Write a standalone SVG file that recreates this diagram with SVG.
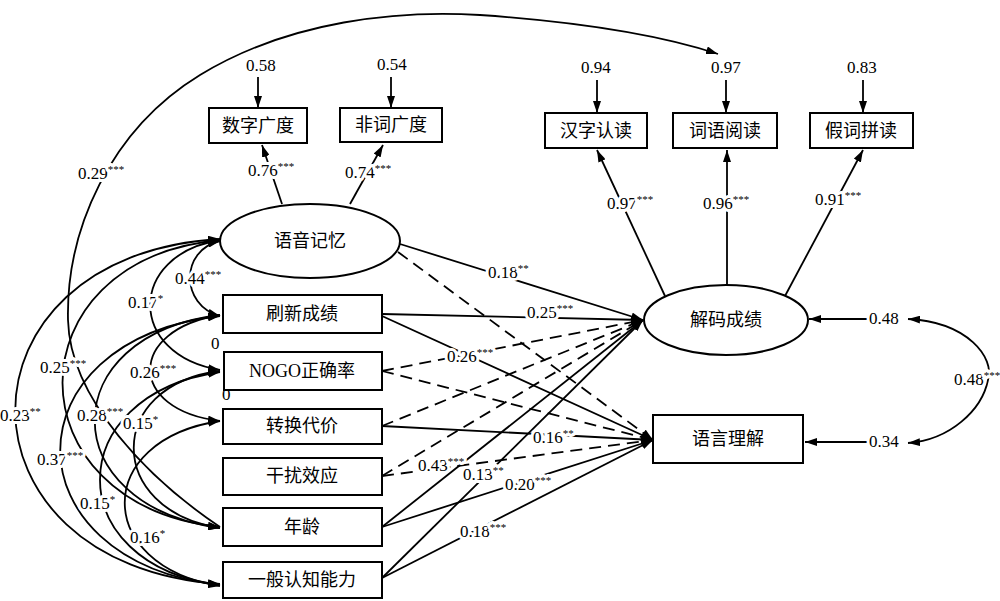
<svg xmlns="http://www.w3.org/2000/svg" width="1000" height="601" viewBox="0 0 1000 601" font-family="'Liberation Serif','Noto Sans CJK SC',serif">
<defs>
<style>
.bx{fill:#fff;stroke:#000;stroke-width:2}
.el{fill:#fff;stroke:#000;stroke-width:2}
.ln{fill:none;stroke:#000;stroke-width:1.8}
.ds{stroke-dasharray:12 7}
text{font-family:'Liberation Serif','Noto Sans CJK SC',serif;fill:#000}
.nt{font-size:18px;text-anchor:middle}
.lb{font-size:17px;stroke:#fff;stroke-width:6;paint-order:stroke;stroke-linejoin:round}
.lb tspan{font-size:11px}
</style>
<marker id="ah" viewBox="0 0 12 8" refX="12" refY="4" markerWidth="12" markerHeight="8" markerUnits="userSpaceOnUse" orient="auto-start-reverse"><path d="M0,0 L12,4 L0,8 z" fill="#000"/></marker>
</defs>
<rect width="1000" height="601" fill="#fff"/>
<g id="connectors">
<path class="ln" marker-end="url(#ah)" d="M220,527 C150,480 70,400 68,320 C66,230 110,130 200,75 C290,20 400,10 480,15 C580,22 660,35 718,54"/>
<path class="ln" marker-end="url(#ah)" d="M258,77 L258,108"/>
<path class="ln" marker-end="url(#ah)" d="M391,77 L391,108"/>
<path class="ln" marker-end="url(#ah)" d="M597,80 L597,113"/>
<path class="ln" marker-end="url(#ah)" d="M726,80 L726,113"/>
<path class="ln" marker-end="url(#ah)" d="M863,80 L863,113"/>
<path class="ln" marker-end="url(#ah)" d="M868,319 L809,319"/>
<path class="ln" marker-end="url(#ah)" d="M868,442 L805,442"/>
<path class="ln" marker-start="url(#ah)" marker-end="url(#ah)" d="M908,319 C968,322 995,358 988,380 C982,410 950,440 908,443"/>
<path class="ln" marker-end="url(#ah)" d="M282,204 L262,145"/>
<path class="ln" marker-end="url(#ah)" d="M350,204 L383,145"/>
<path class="ln" marker-end="url(#ah)" d="M665,296 L597,150"/>
<path class="ln" marker-end="url(#ah)" d="M727,285 L727,150"/>
<path class="ln" marker-end="url(#ah)" d="M785,296 L863,150"/>
<path class="ln" marker-start="url(#ah)" marker-end="url(#ah)" d="M220,241 C180,250 180,305 220,316"/>
<path class="ln" marker-start="url(#ah)" marker-end="url(#ah)" d="M220,240 C127,255 127,355 220,370"/>
<path class="ln" marker-start="url(#ah)" marker-end="url(#ah)" d="M220,240 C10,260 10,505 220,527"/>
<path class="ln" marker-start="url(#ah)" marker-end="url(#ah)" d="M220,239 C-53,255 -53,565 220,584"/>
<path class="ln" marker-start="url(#ah)" marker-end="url(#ah)" d="M220,315 C127,330 127,410 220,421"/>
<path class="ln" marker-start="url(#ah)" marker-end="url(#ah)" d="M220,315 C53,335 53,505 220,528"/>
<path class="ln" marker-start="url(#ah)" marker-end="url(#ah)" d="M220,316 C7,340 7,560 220,585"/>
<path class="ln" marker-start="url(#ah)" marker-end="url(#ah)" d="M220,371 C105,385 105,510 220,528"/>
<path class="ln" marker-start="url(#ah)" marker-end="url(#ah)" d="M220,372 C60,395 60,565 220,585"/>
<path class="ln" marker-start="url(#ah)" marker-end="url(#ah)" d="M220,421 C93,440 93,565 220,586"/>
<path class="ln" marker-end="url(#ah)" d="M400,244 L643,320"/>
<path class="ln" marker-end="url(#ah)" d="M382,314 L643,320"/>
<path class="ln ds" marker-end="url(#ah)" d="M382,371 L643,320"/>
<path class="ln ds" marker-end="url(#ah)" d="M382,426 L643,320"/>
<path class="ln ds" marker-end="url(#ah)" d="M382,476 L643,320"/>
<path class="ln" marker-end="url(#ah)" d="M382,527 L643,320"/>
<path class="ln" marker-end="url(#ah)" d="M382,578 L643,320"/>
<path class="ln ds" marker-end="url(#ah)" d="M398,252 L653,440"/>
<path class="ln" marker-end="url(#ah)" d="M382,316 L653,440"/>
<path class="ln ds" marker-end="url(#ah)" d="M382,371 L653,440"/>
<path class="ln" marker-end="url(#ah)" d="M382,426 L653,440"/>
<path class="ln ds" marker-end="url(#ah)" d="M382,476 L653,440"/>
<path class="ln" marker-end="url(#ah)" d="M382,527 L653,440"/>
<path class="ln" marker-end="url(#ah)" d="M382,578 L653,440"/>
<text class="lb" x="78" y="179">0.29<tspan dy="-6">***</tspan></text>
<text class="lb" x="248" y="176">0.76<tspan dy="-6">***</tspan></text>
<text class="lb" x="345" y="178">0.74<tspan dy="-6">***</tspan></text>
<text class="lb" x="246" y="71">0.58</text>
<text class="lb" x="377" y="70">0.54</text>
<text class="lb" x="581" y="73">0.94</text>
<text class="lb" x="711" y="73">0.97</text>
<text class="lb" x="847" y="73">0.83</text>
<text class="lb" x="607" y="209">0.97<tspan dy="-6">***</tspan></text>
<text class="lb" x="703" y="209">0.96<tspan dy="-6">***</tspan></text>
<text class="lb" x="815" y="205">0.91<tspan dy="-6">***</tspan></text>
<text class="lb" x="869" y="324">0.48</text>
<text class="lb" x="869" y="447">0.34</text>
<text class="lb" x="954" y="385">0.48<tspan dy="-6">***</tspan></text>
<text class="lb" x="488" y="278">0.18<tspan dy="-6">**</tspan></text>
<text class="lb" x="527" y="318">0.25<tspan dy="-6">***</tspan></text>
<text class="lb" x="447" y="362">0.26<tspan dy="-6">***</tspan></text>
<text class="lb" x="533" y="443">0.16<tspan dy="-6">**</tspan></text>
<text class="lb" x="418" y="471">0.43<tspan dy="-6">***</tspan></text>
<text class="lb" x="463" y="480">0.13<tspan dy="-6">**</tspan></text>
<text class="lb" x="505" y="490">0.20<tspan dy="-6">***</tspan></text>
<text class="lb" x="460" y="537">0.18<tspan dy="-6">***</tspan></text>
<text class="lb" x="175" y="284">0.44<tspan dy="-6">***</tspan></text>
<text class="lb" x="128" y="308">0.17<tspan dy="-6">*</tspan></text>
<text class="lb" x="40" y="373">0.25<tspan dy="-6">***</tspan></text>
<text class="lb" x="130" y="378">0.26<tspan dy="-6">***</tspan></text>
<text class="lb" x="211" y="349">0</text>
<text class="lb" x="222" y="400">0</text>
<text class="lb" x="0" y="421">0.23<tspan dy="-6">**</tspan></text>
<text class="lb" x="77" y="421">0.28<tspan dy="-6">***</tspan></text>
<text class="lb" x="123" y="429">0.15<tspan dy="-6">*</tspan></text>
<text class="lb" x="37" y="465">0.37<tspan dy="-6">***</tspan></text>
<text class="lb" x="80" y="509">0.15<tspan dy="-6">*</tspan></text>
<text class="lb" x="130" y="543">0.16<tspan dy="-6">*</tspan></text>
</g>
<g id="n-shuzi"><rect class="bx" x="209" y="108" width="98" height="35"/><text class="nt" x="258" y="132">数字广度</text></g>
<g id="n-feici"><rect class="bx" x="340" y="108" width="102" height="34"/><text class="nt" x="391" y="131">非词广度</text></g>
<g id="n-hanzi"><rect class="bx" x="545" y="113" width="102" height="35"/><text class="nt" x="596" y="137">汉字认读</text></g>
<g id="n-ciyu"><rect class="bx" x="673" y="113" width="104" height="35"/><text class="nt" x="725" y="137">词语阅读</text></g>
<g id="n-jiaci"><rect class="bx" x="810" y="113" width="103" height="35"/><text class="nt" x="861" y="137">假词拼读</text></g>
<g id="n-yuyin"><ellipse class="el" cx="310" cy="241" rx="90" ry="37"/><text class="nt" x="310" y="247">语音记忆</text></g>
<g id="n-jiema"><ellipse class="el" cx="726" cy="320" rx="82" ry="35"/><text class="nt" x="726" y="326">解码成绩</text></g>
<g id="n-yuyan"><rect class="bx" x="653" y="415" width="150" height="48"/><text class="nt" x="728" y="445">语言理解</text></g>
<g id="n-shuaxin"><rect class="bx" x="223" y="295" width="159" height="38"/><text class="nt" x="302" y="320">刷新成绩</text></g>
<g id="n-nogo"><rect class="bx" x="224" y="352" width="158" height="38"/><text class="nt" x="302" y="377">NOGO正确率</text></g>
<g id="n-zhuanhuan"><rect class="bx" x="223" y="409" width="159" height="35"/><text class="nt" x="302" y="432">转换代价</text></g>
<g id="n-ganrao"><rect class="bx" x="223" y="458" width="159" height="37"/><text class="nt" x="302" y="482">干扰效应</text></g>
<g id="n-nianling"><rect class="bx" x="223" y="508" width="159" height="38"/><text class="nt" x="302" y="533">年龄</text></g>
<g id="n-yiban"><rect class="bx" x="223" y="562" width="159" height="36"/><text class="nt" x="302" y="586">一般认知能力</text></g>
</svg>
